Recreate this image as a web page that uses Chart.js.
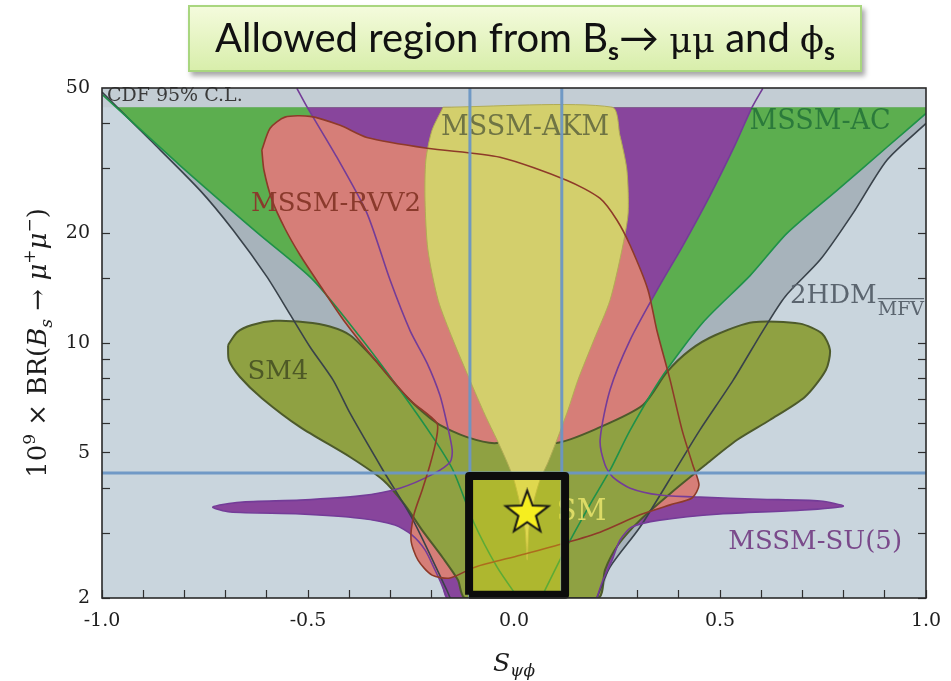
<!DOCTYPE html>
<html>
<head>
<meta charset="utf-8">
<script src="https://cdn.jsdelivr.net/npm/chart.js@4.4.1/dist/chart.umd.min.js"></script>
<style>
  html, body { margin: 0; padding: 0; background: #fff; }
  #rahmen { position: relative; width: 951px; height: 681px; }
  #plot { position: absolute; left: 0; top: 0; }
  #titel {
    position: absolute; left: 188px; top: 5px; width: 674px; height: 67px;
    box-sizing: border-box; border: 2px solid #a9d67f;
    background: linear-gradient(#f4fbdc, #d8eeab);
    box-shadow: 3px 4px 5px rgba(0, 0, 0, 0.35);
    font-family: Lato, sans-serif; font-size: 40px; color: #111;
    text-align: center; line-height: 60px; white-space: nowrap;
  }
  #titel sub { font-size: 0.62em; font-weight: bold; vertical-align: -0.32em; line-height: 0; }
  #titel .sym { font-family: "DejaVu Serif", serif; font-size: 0.88em; }
</style>
</head>
<body>
<div id="rahmen">
  <canvas id="plot" width="951" height="681"></canvas>
  <div id="titel">Allowed region from B<sub>s</sub>&#8594; <span class="sym">&mu;&mu;</span> and <span class="sym">&#981;</span><sub>s</sub></div>
</div>
<script>
// Achsen: S_psi_phi (x) und 10^9 x BR(Bs -> mu mu) (y, logarithmisch)
const xTickWerte = [-1, -0.5, 0, 0.5, 1];
const yTickWerte = [2, 5, 10, 20, 50];
const cdfGrenze = 44.3; // CDF 95% C.L.

// 2HDM_MFV Randkurven
const hdmLinksS = [-1.0, -0.883, -0.762, -0.682, -0.600, -0.544, -0.495, -0.439, -0.398, -0.318, -0.245, -0.163, -0.155];
const hdmLinksBR = [48.7, 36.0, 26.2, 20.4, 15.2, 12.0, 9.75, 7.91, 6.42, 4.48, 3.27, 2.10, 2.0];
const hdmRechtsS = [1.0, 0.905, 0.823, 0.743, 0.658, 0.604, 0.532, 0.451, 0.396, 0.306, 0.233, 0.201];
const hdmRechtsBR = [40.0, 31.7, 22.7, 16.9, 13.4, 10.8, 7.91, 5.77, 4.57, 3.13, 2.43, 2.0];
const hdmEckeS = [-0.963, 1.0];

// MSSM-AC Randkurven
const acLinksS = [-0.998, -0.811, -0.624, -0.488, -0.374, -0.277, -0.197, -0.148, -0.097, -0.041, 0.010];
const acLinksBR = [47.8, 30.7, 20.1, 14.9, 10.4, 7.43, 5.52, 4.48, 3.21, 2.43, 2.0];
const acRechtsS = [1.0, 0.905, 0.784, 0.663, 0.573, 0.459, 0.362, 0.282, 0.233, 0.184, 0.124, 0.075, 0.066];
const acRechtsBR = [42.6, 34.4, 26.2, 20.0, 15.3, 11.4, 8.17, 5.77, 4.48, 3.60, 2.71, 2.10, 2.0];
const acEckeS = [-0.966, 1.0];

// MSSM-SU(5): linker Ast mit Zunge, rechter Ast mit Zunge
const suLinksS = [-0.527, -0.502, -0.430, -0.357, -0.301, -0.252, -0.211, -0.180, -0.163, -0.150, -0.155, -0.197, -0.277, -0.374, -0.519, -0.665, -0.731, -0.689, -0.519, -0.374, -0.289, -0.248, -0.216, -0.192, -0.175, -0.163];
const suLinksBR = [49.9, 44.3, 32.3, 22.7, 14.9, 10.8, 8.81, 7.20, 6.03, 5.09, 4.72, 4.37, 4.00, 3.81, 3.71, 3.66, 3.55, 3.44, 3.40, 3.31, 3.17, 2.98, 2.71, 2.39, 2.17, 2.0];
const suRechtsS = [0.201, 0.216, 0.238, 0.257, 0.286, 0.354, 0.500, 0.694, 0.799, 0.743, 0.597, 0.451, 0.354, 0.282, 0.240, 0.221, 0.209, 0.233, 0.282, 0.354, 0.410, 0.476, 0.536, 0.578, 0.604];
const suRechtsBR = [2.0, 2.24, 2.54, 2.88, 3.13, 3.27, 3.40, 3.48, 3.57, 3.69, 3.73, 3.78, 3.83, 4.00, 4.29, 4.63, 5.42, 7.43, 10.2, 14.4, 18.5, 25.4, 34.8, 44.3, 49.9];

// MSSM-RVV2
const rvvS = [-0.612, -0.592, -0.556, -0.495, -0.422, -0.357, -0.211, -0.034, 0.129, 0.209, 0.250, 0.282, 0.325, 0.347, 0.379, 0.408, 0.434, 0.449, 0.432, 0.379, 0.306, 0.209, 0.124, 0.015, -0.095, -0.155, -0.199, -0.233, -0.250, -0.243, -0.223, -0.204, -0.189, -0.187, -0.252, -0.337, -0.410, -0.471, -0.519, -0.556, -0.587, -0.607];
const rvvBR = [33.8, 38.8, 41.6, 41.8, 39.5, 36.6, 34.2, 32.3, 27.9, 24.9, 21.7, 18.5, 14.0, 10.8, 7.91, 5.77, 4.63, 4.08, 3.76, 3.60, 3.38, 3.03, 2.83, 2.62, 2.43, 2.27, 2.31, 2.54, 2.88, 3.38, 3.95, 4.63, 5.42, 6.03, 6.97, 8.98, 11.4, 14.4, 17.4, 20.6, 24.6, 29.8];

// SM4
const sm4S = [-0.694, -0.672, -0.636, -0.580, -0.507, -0.447, -0.398, -0.337, -0.265, -0.187, -0.114, -0.041, 0.032, 0.100, 0.209, 0.313, 0.371, 0.427, 0.488, 0.580, 0.694, 0.748, 0.767, 0.757, 0.706, 0.621, 0.541, 0.464, 0.383, 0.306, 0.252, 0.221, 0.204, -0.119, -0.136, -0.172, -0.223, -0.265, -0.318, -0.398, -0.519, -0.612, -0.665, -0.692];
const sm4BR = [9.87, 10.7, 11.2, 11.5, 11.4, 11.1, 10.5, 8.98, 7.20, 6.03, 5.52, 5.32, 5.77, 5.32, 5.88, 6.76, 8.32, 9.56, 10.5, 11.4, 11.3, 10.6, 9.56, 8.43, 7.11, 6.15, 5.42, 4.63, 3.90, 3.27, 2.79, 2.39, 2.0, 2.0, 2.24, 2.57, 3.07, 3.60, 4.21, 4.87, 5.88, 7.06, 8.07, 8.98];

// MSSM-AKM
const akmS = [-0.172, -0.199, -0.214, -0.216, -0.209, -0.184, -0.148, -0.107, -0.070, -0.041, -0.017, 0.0, 0.015, 0.027, 0.032, 0.036, 0.046, 0.063, 0.083, 0.104, 0.131, 0.155, 0.194, 0.233, 0.262, 0.277, 0.274, 0.257, 0.238];
const akmBR = [44.3, 38.3, 31.7, 24.6, 18.0, 13.1, 10.2, 7.91, 6.34, 5.42, 4.72, 4.21, 3.60, 3.07, 2.54, 3.07, 3.60, 4.21, 4.72, 5.42, 6.55, 7.91, 10.2, 13.1, 18.0, 22.7, 29.8, 37.1, 44.3];

// Messgrenzen und erlaubtes Fenster
const sGrenzen = [-0.107, 0.116];
const brGrenze = 4.4;
const fensterS = [-0.109, -0.109, 0.124, 0.124, -0.109];
const fensterBR = [2.04, 4.32, 4.32, 2.04, 2.04];
const smS = [0.032];
const smBR = [3.42];

const beschriftungen = [
  { text: "CDF 95% C.L.", s: -0.988, br: 47.4, farbe: "#3a3a3a", groesse: 19, align: "left" },
  { text: "MSSM-AKM", s: 0.027, br: 38.8, farbe: "#6f7444", groesse: 27, align: "center" },
  { text: "MSSM-RVV2", s: -0.432, br: 24.0, farbe: "#8a3a2c", groesse: 26, align: "center" },
  { text: "MSSM-AC", s: 0.743, br: 40.3, farbe: "#2b7a3b", groesse: 27, align: "center" },
  { text: "2HDM", s: 0.670, br: 13.4, farbe: "#5b656f", groesse: 26, align: "left", index: "MFV" },
  { text: "SM4", s: -0.573, br: 8.32, farbe: "#4e5926", groesse: 26, align: "center" },
  { text: "SM", s: 0.104, br: 3.44, farbe: "#dcdb66", groesse: 29, align: "left" },
  { text: "MSSM-SU(5)", s: 0.731, br: 2.85, farbe: "#7a4a8b", groesse: 26, align: "center" }
];

function punkte(sListe, brListe) {
  return sListe.map((s, i) => ({ x: s, y: brListe[i] }));
}
function geschlossen(pts) {
  return pts.concat([pts[0]]);
}

function flaeche(label, pts, farbe, rand, breite) {
  return {
    label: label, data: pts, fill: "shape", backgroundColor: farbe,
    borderColor: rand || "rgba(0,0,0,0)", borderWidth: breite || 0,
    pointRadius: 0, tension: 0.25
  };
}
function linie(label, pts, farbe, breite, glatt) {
  return {
    label: label, data: pts, fill: false, borderColor: farbe,
    borderWidth: breite, pointRadius: 0, tension: glatt ? 0.25 : 0
  };
}

// Stern fuer den SM-Punkt
function sternBild(r) {
  const c = document.createElement("canvas");
  const groesse = Math.ceil(r * 2 + 6);
  c.width = groesse;
  c.height = groesse;
  const g = c.getContext("2d");
  g.beginPath();
  for (let i = 0; i < 10; i++) {
    const rad = i % 2 === 0 ? r : r * 0.41;
    const w = -Math.PI / 2 + (i * Math.PI) / 5;
    g.lineTo(groesse / 2 + rad * Math.cos(w), groesse / 2 + rad * Math.sin(w));
  }
  g.closePath();
  g.fillStyle = "#f6ee1f";
  g.fill();
  g.lineWidth = 2;
  g.strokeStyle = "#151515";
  g.stroke();
  return c;
}

const hdmLinks = punkte(hdmLinksS, hdmLinksBR);
const hdmRechts = punkte(hdmRechtsS, hdmRechtsBR);
const acLinks = punkte(acLinksS, acLinksBR);
const acRechts = punkte(acRechtsS, acRechtsBR);
const suLinks = punkte(suLinksS, suLinksBR);
const suRechts = punkte(suRechtsS, suRechtsBR);

const hdmFlaeche = [{ x: hdmEckeS[0], y: cdfGrenze }]
  .concat(hdmLinks.slice(1), hdmRechts.slice().reverse(), [{ x: hdmEckeS[1], y: cdfGrenze }]);
const acFlaeche = [{ x: acEckeS[0], y: cdfGrenze }]
  .concat(acLinks.slice(1), acRechts.slice().reverse(), [{ x: acEckeS[1], y: cdfGrenze }]);
const suFlaeche = suLinks.slice(1).concat(suRechts.slice(0, -1));

const datensaetze = [
  flaeche("CDF", [{ x: -1, y: cdfGrenze }, { x: -1, y: 50 }, { x: 1, y: 50 }, { x: 1, y: cdfGrenze }], "#c3cdd4"),
  flaeche("2HDM", hdmFlaeche, "#a7b3bb"),
  flaeche("MSSM-AC", acFlaeche, "#5cae4f"),
  flaeche("MSSM-SU(5)", suFlaeche, "#88459c"),
  flaeche("MSSM-RVV2", punkte(rvvS, rvvBR), "#d67e78"),
  flaeche("SM4", geschlossen(punkte(sm4S, sm4BR)), "#8fa142", "#4d5a2b", 2),
  flaeche("MSSM-AKM", geschlossen(punkte(akmS, akmBR)), "#d3cf6c", "#b1ac55", 1),
  linie("2HDM links", hdmLinks, "#39424a", 1.6, true),
  linie("2HDM rechts", hdmRechts, "#39424a", 1.6, true),
  linie("AC links", acLinks, "#1f9149", 1.6, true),
  linie("AC rechts", acRechts, "#1f9149", 1.6, true),
  linie("SU5 links", suLinks, "#743c98", 1.6, true),
  linie("SU5 rechts", suRechts, "#743c98", 1.6, true),
  linie("RVV2 Rand", geschlossen(punkte(rvvS, rvvBR)), "#8e3a29", 1.6, true)
];
const textNachIndex = datensaetze.length - 1;

datensaetze.push(
  linie("S links", [{ x: sGrenzen[0], y: 2 }, { x: sGrenzen[0], y: 50 }], "rgba(108,150,196,0.95)", 3),
  linie("S rechts", [{ x: sGrenzen[1], y: 2 }, { x: sGrenzen[1], y: 50 }], "rgba(108,150,196,0.95)", 3),
  linie("BR", [{ x: -1, y: brGrenze }, { x: 1, y: brGrenze }], "rgba(108,150,196,0.95)", 3),
  Object.assign(flaeche("Fenster", punkte(fensterS, fensterBR), "rgba(255,242,0,0.28)", "#0c0c0c", 8),
    { tension: 0, clip: false, borderJoinStyle: "round" }),
  { label: "SM", data: punkte(smS, smBR), showLine: false, pointStyle: sternBild(22.5), pointRadius: 22, clip: false }
);
// erster Datensatz liegt unten
datensaetze.forEach((d, i) => { d.order = -i; });

function schreibeTeile(ctx, teile, x0, y0) {
  let x = x0;
  teile.forEach((t) => {
    ctx.font = t.font;
    ctx.fillText(t.text, x, y0 + (t.dy || 0));
    x += ctx.measureText(t.text).width;
  });
}
function breiteTeile(ctx, teile) {
  let b = 0;
  teile.forEach((t) => { ctx.font = t.font; b += ctx.measureText(t.text).width; });
  return b;
}

const serif = '"DejaVu Serif", serif';
const yTitel = [
  { text: "10", font: "26px " + serif },
  { text: "9", font: "17px " + serif, dy: -11 },
  { text: " \u00d7 BR(", font: "26px " + serif },
  { text: "B", font: "italic 26px " + serif },
  { text: "s", font: "italic 17px " + serif, dy: 6 },
  { text: " \u2192 ", font: "26px " + serif },
  { text: "\u03bc", font: "italic 26px " + serif },
  { text: "+", font: "17px " + serif, dy: -11 },
  { text: "\u03bc", font: "italic 26px " + serif },
  { text: "\u2212", font: "17px " + serif, dy: -11 },
  { text: ")", font: "26px " + serif }
];
const xTitel = [
  { text: "S", font: "italic 25px " + serif },
  { text: "\u03c8\u03d5", font: "italic 17px " + serif, dy: 5 }
];

function zeichneBeschriftungen(chart) {
  const { ctx, scales } = chart;
  ctx.save();
  ctx.textBaseline = "middle";
  beschriftungen.forEach((b) => {
    const px = scales.x.getPixelForValue(b.s);
    const py = scales.y.getPixelForValue(b.br);
    ctx.font = b.groesse + "px " + serif;
    ctx.fillStyle = b.farbe;
    ctx.textAlign = b.align;
    ctx.fillText(b.text, px, py);
    if (b.index) {
      const w = ctx.measureText(b.text).width;
      ctx.font = "19px " + serif;
      ctx.textAlign = "left";
      const iw = ctx.measureText(b.index).width;
      ctx.fillText(b.index, px + w + 1, py + 13);
      ctx.strokeStyle = b.farbe;
      ctx.lineWidth = 1.4;
      ctx.beginPath();
      ctx.moveTo(px + w + 1, py + 2);
      ctx.lineTo(px + w + 1 + iw, py + 2);
      ctx.stroke();
    }
  });
  ctx.restore();
}

const diagrammPlugin = {
  id: "diagrammRahmen",
  beforeDraw(chart) {
    const { ctx, chartArea: a } = chart;
    ctx.save();
    ctx.fillStyle = "#c9d5dd";
    ctx.fillRect(a.left, a.top, a.right - a.left, a.bottom - a.top);
    ctx.restore();
  },
  afterDatasetDraw(chart, args) {
    if (args.index === textNachIndex) zeichneBeschriftungen(chart);
  },
  afterDatasetsDraw(chart) {
    const { ctx, chartArea: a } = chart;
    ctx.save();
    ctx.strokeStyle = "#2a2a2a";
    ctx.lineWidth = 1.6;
    ctx.strokeRect(a.left, a.top, a.right - a.left, a.bottom - a.top);
    ctx.restore();
  },
  afterDraw(chart) {
    const { ctx, chartArea: a } = chart;
    ctx.save();
    ctx.fillStyle = "#1c1c1c";
    ctx.textBaseline = "alphabetic";
    ctx.textAlign = "left";
    // y-Achsentitel, gedreht
    ctx.translate(46, (a.top + a.bottom) / 2);
    ctx.rotate(-Math.PI / 2);
    schreibeTeile(ctx, yTitel, -breiteTeile(ctx, yTitel) / 2, 0);
    ctx.restore();
    ctx.save();
    ctx.fillStyle = "#1c1c1c";
    ctx.textBaseline = "alphabetic";
    ctx.textAlign = "left";
    const mitte = (a.left + a.right) / 2;
    schreibeTeile(ctx, xTitel, mitte - breiteTeile(ctx, xTitel) / 2, 671);
    ctx.restore();
  }
};

function randNull(s) {
  s.paddingLeft = 0;
  s.paddingRight = 0;
  s.paddingTop = 0;
  s.paddingBottom = 0;
}

const tickFont = { family: "DejaVu Serif", size: 19 };

new Chart(document.getElementById("plot").getContext("2d"), {
  type: "line",
  data: { datasets: datensaetze },
  options: {
    responsive: false,
    animation: false,
    layout: { padding: { top: 88, right: 0, left: 0, bottom: 0 } },
    plugins: { legend: { display: false }, tooltip: { enabled: false } },
    elements: { point: { radius: 0 } },
    scales: {
      x: {
        type: "linear", min: -1, max: 1,
        ticks: {
          stepSize: 0.1, autoSkip: false, maxRotation: 0, padding: 20,
          font: tickFont, color: "#1e1e1e",
          callback: (v) => (xTickWerte.some((w) => Math.abs(w - v) < 1e-6) ? v.toFixed(1) : "")
        },
        grid: { drawOnChartArea: false, tickLength: -8, color: "#2f2f2f", tickWidth: 1.2 },
        border: { display: false },
        afterFit(s) { s.height = 83; randNull(s); }
      },
      y: {
        type: "logarithmic", min: 2, max: 50,
        ticks: {
          autoSkip: false, padding: 20, font: tickFont, color: "#1e1e1e",
          callback: (v) => (yTickWerte.some((w) => Math.abs(w - v) < 1e-6) ? String(v) : "")
        },
        grid: { drawOnChartArea: false, tickLength: -8, color: "#2f2f2f", tickWidth: 1.2 },
        border: { display: false },
        afterFit(s) { s.width = 102; randNull(s); }
      },
      y2: {
        type: "logarithmic", position: "right", min: 2, max: 50,
        ticks: { display: false, autoSkip: false },
        grid: { drawOnChartArea: false, tickLength: -8, color: "#2f2f2f", tickWidth: 1.2 },
        border: { display: false },
        afterFit(s) { s.width = 25; randNull(s); }
      }
    }
  },
  plugins: [diagrammPlugin]
});
</script>
</body>
</html>
